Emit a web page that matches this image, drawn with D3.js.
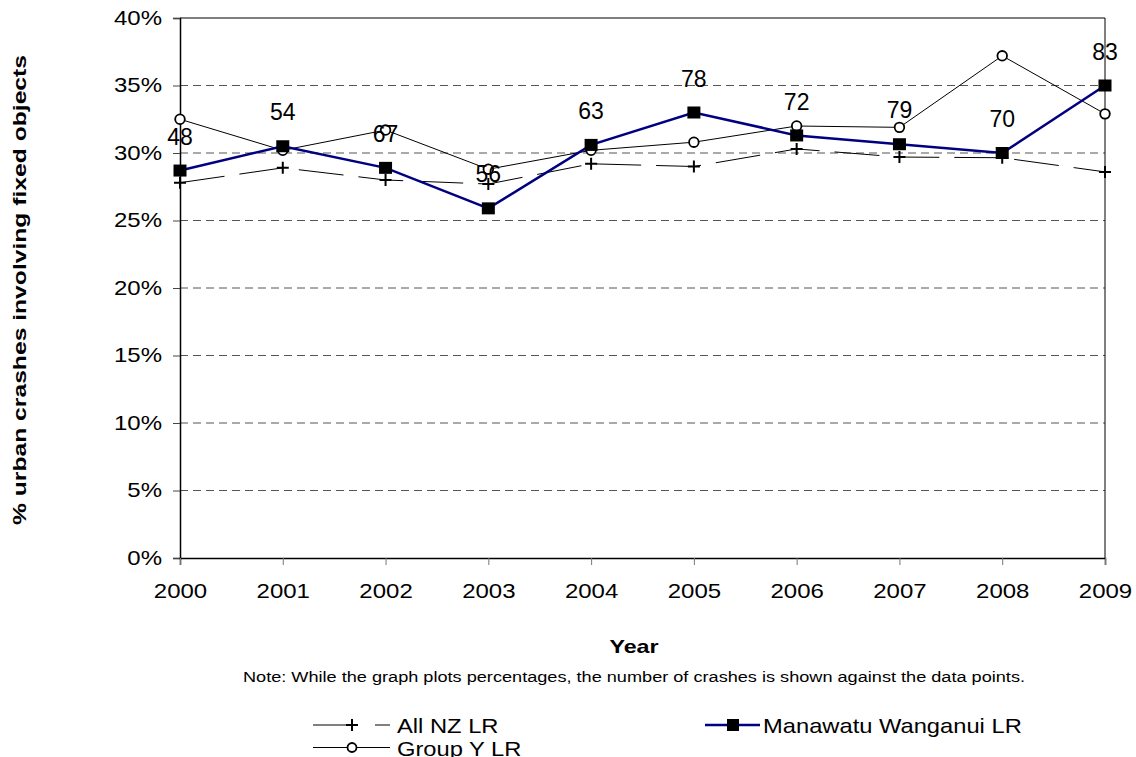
<!DOCTYPE html>
<html>
<head>
<meta charset="utf-8">
<script src="https://cdn.jsdelivr.net/npm/d3@7"></script>
<style>
  html, body { margin: 0; padding: 0; background: #fff; }
  svg { display: block; font-family: "Liberation Sans", Arial, sans-serif; }
</style>
</head>
<body>
<svg id="chart" width="1136" height="757"></svg>
<script>
// Years along the x axis
const years = ["2000", "2001", "2002", "2003", "2004", "2005", "2006", "2007", "2008", "2009"];
// Share of urban crashes involving fixed objects (%)
const allNZ = [27.8, 28.9, 28.0, 27.7, 29.2, 29.0, 30.3, 29.7, 29.65, 28.6];
const groupY = [32.5, 30.2, 31.7, 28.8, 30.2, 30.8, 32.0, 31.9, 37.2, 32.9];
const manawatu = [28.7, 30.5, 28.9, 25.9, 30.6, 33.0, 31.3, 30.65, 30.0, 35.0];
// Number of crashes for Manawatu Wanganui LR
const crashCounts = [48, 54, 67, 56, 63, 78, 72, 79, 70, 83];
const yTicks = [0, 5, 10, 15, 20, 25, 30, 35, 40];

const svg = d3.select("#chart");
const plotLeft = 180, plotRight = 1105, plotTop = 18, plotBottom = 558;
const stretch = 1.2; // text is drawn wide

const x = d3.scalePoint().domain(years).range([plotLeft, plotRight]);
const y = d3.scaleLinear().domain([0, 40]).range([plotBottom, plotTop]);

// Dashed gridlines
svg.append("g").selectAll("line")
  .data(yTicks.filter(d => d > 0 && d < 40))
  .join("line")
  .attr("x1", plotLeft).attr("x2", plotRight)
  .attr("y1", d => y(d)).attr("y2", d => y(d))
  .attr("stroke", "#555").attr("stroke-width", 1)
  .attr("stroke-dasharray", "8,5");

// Plot border (top and right)
svg.append("line").attr("x1", plotLeft).attr("x2", plotRight).attr("y1", plotTop).attr("y2", plotTop)
  .attr("stroke", "#000").attr("stroke-width", 1);
svg.append("line").attr("x1", plotRight).attr("x2", plotRight).attr("y1", plotTop).attr("y2", plotBottom)
  .attr("stroke", "#000").attr("stroke-width", 1);

// Y axis
const yAxis = svg.append("g")
  .attr("transform", `translate(${plotLeft},0)`)
  .call(d3.axisLeft(y).tickValues(yTicks).tickFormat(d => d + "%").tickSize(7).tickPadding(8));
yAxis.select(".domain").attr("stroke", "#000").attr("stroke-width", 1.5);
yAxis.selectAll(".tick line").attr("stroke", "#444");
yAxis.selectAll("text").attr("font-size", 20).attr("fill", "#000")
  .attr("font-family", "Liberation Sans, Arial, sans-serif")
  .attr("transform", `scale(${stretch},1)`);

// X axis
const xAxis = svg.append("g")
  .attr("transform", `translate(0,${plotBottom})`)
  .call(d3.axisBottom(x).tickSize(7).tickPadding(19));
xAxis.select(".domain").attr("stroke", "#000").attr("stroke-width", 1.5);
xAxis.selectAll(".tick line").attr("stroke", "#777");
xAxis.selectAll("text").attr("font-size", 20).attr("fill", "#000")
  .attr("font-family", "Liberation Sans, Arial, sans-serif")
  .attr("transform", `scale(${stretch},1)`);

const line = d3.line().x((d, i) => x(years[i])).y(d => y(d));

// All NZ LR: long-dash line with plus markers
svg.append("path").datum(allNZ).attr("d", line)
  .attr("fill", "none").attr("stroke", "#000").attr("stroke-width", 1)
  .attr("stroke-dasharray", "45,15");
svg.append("g").selectAll("path")
  .data(allNZ).join("path")
  .attr("d", (d, i) => {
    const cx = x(years[i]), cy = y(d), s = 6;
    return `M${cx - s},${cy}H${cx + s}M${cx},${cy - s}V${cy + s}`;
  })
  .attr("stroke", "#000").attr("stroke-width", 2);

// Group Y LR: thin solid line with open circles
svg.append("path").datum(groupY).attr("d", line)
  .attr("fill", "none").attr("stroke", "#000").attr("stroke-width", 1);
svg.append("g").selectAll("circle")
  .data(groupY).join("circle")
  .attr("cx", (d, i) => x(years[i])).attr("cy", d => y(d)).attr("r", 4.8)
  .attr("fill", "#fff").attr("stroke", "#000").attr("stroke-width", 1.8);

// Manawatu Wanganui LR: navy line with filled squares
svg.append("path").datum(manawatu).attr("d", line)
  .attr("fill", "none").attr("stroke", "#000080").attr("stroke-width", 2.5);
svg.append("g").selectAll("rect")
  .data(manawatu).join("rect")
  .attr("x", (d, i) => x(years[i]) - 6.5).attr("y", d => y(d) - 6)
  .attr("width", 13).attr("height", 12).attr("fill", "#000");

// Crash counts above each Manawatu point
svg.append("g").selectAll("text")
  .data(manawatu).join("text")
  .attr("x", (d, i) => x(years[i])).attr("y", d => y(d) - 34)
  .attr("dy", "0.35em").attr("text-anchor", "middle")
  .attr("font-size", 23).attr("fill", "#000")
  .text((d, i) => crashCounts[i]);

// Axis titles and note
svg.append("text")
  .attr("transform", "translate(26,290) rotate(-90)")
  .attr("text-anchor", "middle").attr("font-size", 19).attr("font-weight", "bold")
  .attr("textLength", 470).attr("lengthAdjust", "spacingAndGlyphs")
  .text("% urban crashes involving fixed objects");
svg.append("text")
  .attr("transform", "translate(634,653) scale(1.33,1)")
  .attr("text-anchor", "middle")
  .attr("font-size", 17.5).attr("font-weight", "bold").text("Year");
svg.append("text").attr("x", 634).attr("y", 682).attr("text-anchor", "middle")
  .attr("font-size", 14).attr("textLength", 782).attr("lengthAdjust", "spacingAndGlyphs")
  .text("Note: While the graph plots percentages, the number of crashes is shown against the  data points.");

// Legend
const legend = svg.append("g");
function legendLine(x1, x2, yy, stroke, width, dash) {
  legend.append("line").attr("x1", x1).attr("x2", x2).attr("y1", yy).attr("y2", yy)
    .attr("stroke", stroke).attr("stroke-width", width)
    .attr("stroke-dasharray", dash || null);
}
function legendText(tx, ty, label) {
  legend.append("text")
    .attr("transform", `translate(${tx},${ty}) scale(1.13,1)`)
    .attr("font-size", 21).text(label);
}
// All NZ LR
legendLine(313, 390, 725, "#000", 1, "44,18");
legend.append("path")
  .attr("d", "M346,725H358M352,719V731").attr("stroke", "#000").attr("stroke-width", 2);
legendText(397, 733, "All NZ LR");
// Group Y LR
legendLine(313, 390, 747.5, "#000", 1);
legend.append("circle").attr("cx", 352).attr("cy", 747.5).attr("r", 4.5)
  .attr("fill", "#fff").attr("stroke", "#000").attr("stroke-width", 1.8);
legendText(397, 756, "Group Y LR");
// Manawatu Wanganui LR
legendLine(705, 760, 725, "#000080", 2.5);
legend.append("rect").attr("x", 727).attr("y", 719).attr("width", 12).attr("height", 12).attr("fill", "#000");
legendText(763, 733, "Manawatu Wanganui LR");
</script>
</body>
</html>
